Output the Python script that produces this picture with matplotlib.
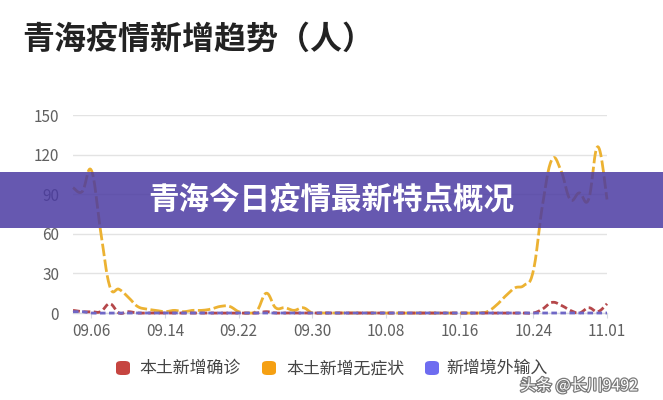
import numpy as np
import pandas as pd
import matplotlib
matplotlib.use('Agg')
import matplotlib.pyplot as plt
from matplotlib.patches import FancyBboxPatch, Rectangle
import matplotlib.patheffects as pe

plt.rcParams['font.family'] = ['Noto Sans CJK SC', 'DejaVu Sans']
plt.rcParams['lines.scale_dashes'] = False

# ---------------- data ----------------
dates = pd.date_range('2022-09-04', '2022-11-01').strftime('%m.%d').tolist()
series_names = ['本土新增确诊', '本土新增无症状', '新增境外输入']

confirmed = [2, 1, 1, 1, 7, 0, 1, 0, 0, 0,
             0, 0, 0, 0, 0, 0, 0, 0, 0, 0,
             0, 1, 0, 0, 0, 0, 0, 0, 0, 0,
             0, 0, 0, 0, 0, 0, 0, 0, 0, 0,
             0, 0, 0, 0, 0, 0, 0, 0, 0, 0,
             0, 3, 8, 6, 2, 0, 4, 1, 7]

asymptomatic = [95, 92, 108, 62, 20, 18, 12, 5, 3, 2,
                1, 2, 1, 2, 2, 3, 5, 5, 1, 0,
                2, 15, 4, 4, 2, 4, 0, 0, 0, 0,
                0, 0, 0, 0, 0, 0, 0, 0, 0, 0,
                0, 0, 0, 0, 0, 1, 6, 13, 19, 21,
                32, 82, 116, 108, 86, 91, 86, 126, 86]

imported = [1, 1, 0, 0, 0, 0, 0, 0, 0, 0,
            0, 0, 0, 0, 0, 0, 0, 0, 0, 0,
            0, 0, 0, 0, 0, 0, 0, 0, 0, 0,
            0, 0, 0, 0, 0, 0, 0, 0, 0, 0,
            0, 0, 0, 0, 0, 0, 0, 0, 0, 0,
            0, 0, 0, 0, 0, 0, 0, 0, 0]

yticks = [0, 30, 60, 90, 120, 150]
xtick_labels = ['09.06', '09.14', '09.22', '09.30', '10.08', '10.16', '10.24', '11.01']

colors_line = ['#b5474a', '#ecb232', '#6f67c6']
colors_legend = ['#c64540', '#f5a013', '#6e6cf0']


def smooth_curve(xs, ys, s=0.2, n=16):
    xs = np.asarray(xs, float)
    ys = np.asarray(ys, float)
    m = len(xs)
    outx, outy = [], []
    t = np.linspace(0, 1, n)
    for i in range(m - 1):
        p0 = np.array([xs[i], ys[i]])
        p3 = np.array([xs[i + 1], ys[i + 1]])
        pp = np.array([xs[max(i - 1, 0)], ys[max(i - 1, 0)]])
        pn = np.array([xs[min(i + 2, m - 1)], ys[min(i + 2, m - 1)]])
        c1 = p0 + s * (p3 - pp)
        c2 = p3 - s * (pn - p0)
        b = ((1 - t) ** 3)[:, None] * p0 + (3 * (1 - t) ** 2 * t)[:, None] * c1 \
            + (3 * (1 - t) * t ** 2)[:, None] * c2 + (t ** 3)[:, None] * p3
        if i > 0:
            b = b[1:]
        outx.append(b[:, 0])
        outy.append(b[:, 1])
    return np.concatenate(outx), np.concatenate(outy)


W, H = 663, 400
fig = plt.figure(figsize=(W / 100, H / 100), dpi=100)
fig.patch.set_facecolor('white')

ax = fig.add_axes([73 / W, 87 / H, 534 / W, 198 / H])
x = np.arange(len(dates))

# orange (asymptomatic)
sx, sy = smooth_curve(x, asymptomatic)
ax.plot(sx, sy, color=colors_line[1], lw=2.0, dashes=(9, 2.5), zorder=3, clip_on=False)
# red (confirmed)
sx, sy = smooth_curve(x, confirmed)
ax.plot(sx, sy, color=colors_line[0], lw=2.0, dashes=(5, 2.5), zorder=4, clip_on=False)
# purple (imported)
sx, sy = smooth_curve(x, imported)
ax.plot(sx, sy, color=colors_line[2], lw=2.0, dashes=(4, 2.5), zorder=5, clip_on=False)

ax.set_xlim(0, len(dates) - 1)
ax.set_ylim(0, 150)
ax.set_yticks(yticks)
ax.set_yticklabels([str(v) for v in yticks])
tick_pos = [dates.index(l) for l in xtick_labels]
ax.set_xticks(tick_pos)
ax.set_xticklabels(xtick_labels)

for sp in ['top', 'right', 'left']:
    ax.spines[sp].set_visible(False)
ax.spines['bottom'].set_color('#d6d9e0')
ax.spines['bottom'].set_linewidth(1)
ax.grid(axis='y', color='#e3e3e3', lw=1)
ax.set_axisbelow(True)
ax.tick_params(axis='y', length=0, pad=10, labelsize=11, labelcolor='#606060')
ax.tick_params(axis='x', length=3.5, width=0.8, color='#d6d9e0', pad=4,
               labelsize=11, labelcolor='#606060')

# title
fig.text(22 / W, 1 - 40 / H, '青海疫情新增趋势（人）', fontsize=23, fontweight='bold',
         color='#222222', ha='left', va='center')

# legend
leg_items = [(116, 139), (262, 286), (425, 446)]
for (bx, tx), name, c in zip(leg_items, series_names, colors_legend):
    fig.add_artist(FancyBboxPatch((bx / W, 1 - 375 / H), 14 / W, 14 / H,
                                  boxstyle='round,pad=0,rounding_size=0.008',
                                  transform=fig.transFigure, facecolor=c,
                                  edgecolor='none'))
    fig.text(tx / W, 1 - 368 / H, name, fontsize=12.2, color='#444444',
             ha='left', va='center')

# banner
fig.add_artist(Rectangle((0, 1 - 228 / H), 1, 56 / H, transform=fig.transFigure,
                         facecolor='#4b3ba2', alpha=0.85, edgecolor='none', zorder=10))
t = fig.text(0.5, 1 - 200 / H, '青海今日疫情最新特点概况', fontsize=22, fontweight='black',
             color='white', ha='center', va='center', zorder=11)

# watermark
wm = fig.text(520 / W, 1 - 386 / H, '头条 @长川9492', fontsize=11.5, color='white',
              ha='left', va='center', zorder=12)
wm.set_path_effects([pe.withStroke(linewidth=1.8, foreground='#7a7a7a')])

fig.savefig('out.png', dpi=100)
